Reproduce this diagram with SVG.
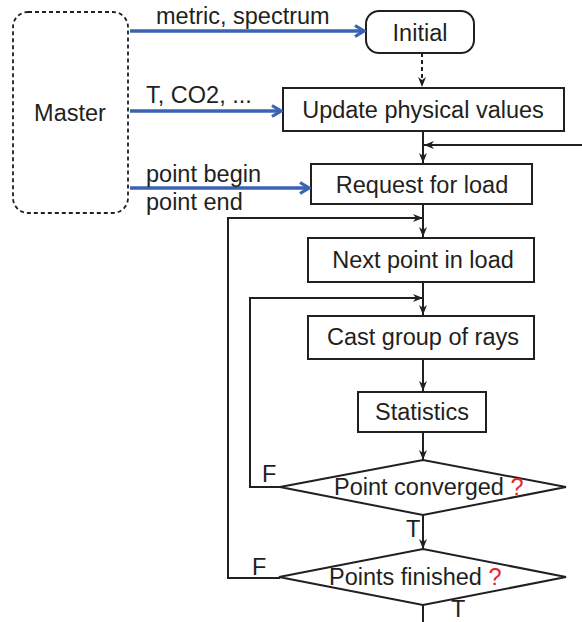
<svg xmlns="http://www.w3.org/2000/svg" width="582" height="622" viewBox="0 0 582 622">
<style>
text{font-family:"Liberation Sans",Arial,sans-serif;font-size:23.5px;fill:#231f20}
.c{text-anchor:middle}
.box{fill:#fff;stroke:#231f20;stroke-width:2}
.ln{fill:none;stroke:#231f20;stroke-width:2}
.bl{fill:none;stroke:#3a63b3;stroke-width:3.5}
.q{fill:#e0262b}
</style>
<defs>
<marker id="ah" viewBox="0 0 10 10" refX="10" refY="5" markerWidth="10" markerHeight="10" markerUnits="userSpaceOnUse" orient="auto">
<path d="M0,1 L10,5 L0,9 L3,5 Z" fill="#231f20"/>
</marker>
<marker id="bh" viewBox="0 0 14 14" refX="12" refY="7" markerWidth="14" markerHeight="14" markerUnits="userSpaceOnUse" orient="auto">
<path d="M3,1.5 L12,7 L3,12.5" fill="none" stroke="#3a63b3" stroke-width="3.2"/>
</marker>
</defs>
<g id="master">
<rect x="13" y="12" width="115" height="201" rx="15" fill="#fff" stroke="#231f20" stroke-width="1.8" stroke-dasharray="4,3"/>
<text class="c" x="70" y="121">Master</text>
</g>
<g id="initial">
<rect class="box" x="366" y="11" width="108" height="42" rx="13"/>
<text class="c" x="420" y="41">Initial</text>
</g>
<g id="update">
<rect class="box" x="283" y="88" width="281" height="43"/>
<text class="c" x="423" y="118">Update physical values</text>
</g>
<g id="request">
<rect class="box" x="311" y="164" width="221" height="40"/>
<text class="c" x="422" y="193">Request for load</text>
</g>
<g id="next">
<rect class="box" x="308" y="238" width="226" height="44"/>
<text class="c" x="423" y="268">Next point in load</text>
</g>
<g id="cast">
<rect class="box" x="308" y="316" width="226" height="43"/>
<text class="c" x="423" y="345">Cast group of rays</text>
</g>
<g id="statistics">
<rect class="box" x="358" y="392" width="128" height="40"/>
<text class="c" x="422" y="420">Statistics</text>
</g>
<g id="converged">
<polygon class="box" points="280,487 423,460 566,487 423,515"/>
<text x="334" y="495">Point converged <tspan class="q">?</tspan></text>
</g>
<g id="finished">
<polygon class="box" points="279,577 423,549 566,577 423,605"/>
<text x="329" y="585">Points finished <tspan class="q">?</tspan></text>
</g>
<g id="connectors">
<line class="bl" x1="130" y1="31" x2="364" y2="31" marker-end="url(#bh)"/>
<line class="bl" x1="130" y1="111" x2="281" y2="111" marker-end="url(#bh)"/>
<line class="bl" x1="130" y1="188" x2="309" y2="188" marker-end="url(#bh)"/>
<line class="ln" x1="422" y1="53" x2="422" y2="87" stroke-dasharray="4,3" marker-end="url(#ah)"/>
<line class="ln" x1="423" y1="131" x2="423" y2="163" marker-end="url(#ah)"/>
<line class="ln" x1="582" y1="145" x2="424" y2="145" marker-end="url(#ah)"/>
<line class="ln" x1="423" y1="204" x2="423" y2="237" marker-end="url(#ah)"/>
<polyline class="ln" points="280,578 228,578 228,218 423,218" marker-end="url(#ah)"/>
<line class="ln" x1="423" y1="282" x2="423" y2="315" marker-end="url(#ah)"/>
<polyline class="ln" points="280,487 250,487 250,298 423,298" marker-end="url(#ah)"/>
<line class="ln" x1="423" y1="359" x2="423" y2="391" marker-end="url(#ah)"/>
<line class="ln" x1="423" y1="432" x2="423" y2="460" marker-end="url(#ah)"/>
<line class="ln" x1="423" y1="515" x2="423" y2="549" marker-end="url(#ah)"/>
<line class="ln" x1="423" y1="605" x2="423" y2="622"/>
</g>
<g id="labels">
<text x="156" y="24">metric, spectrum</text>
<text x="146" y="103">T, CO2, ...</text>
<text x="146" y="182">point begin</text>
<text x="146" y="210">point end</text>
<text x="262" y="482">F</text>
<text x="406" y="537">T</text>
<text x="252" y="575">F</text>
<text x="451" y="617">T</text>
</g>
</svg>
